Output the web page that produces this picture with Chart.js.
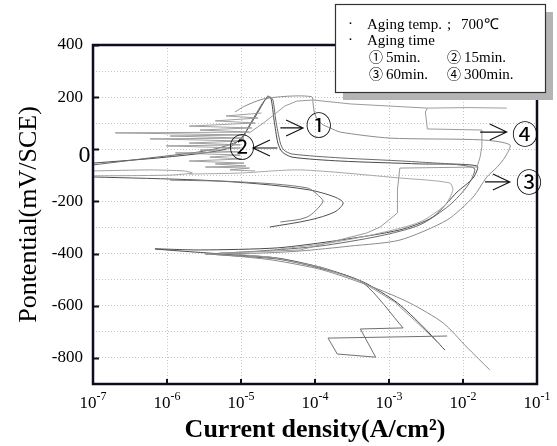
<!DOCTYPE html>
<html>
<head>
<meta charset="utf-8">
<script src="https://cdn.jsdelivr.net/npm/chart.js@4.4.1/dist/chart.umd.min.js"></script>
<style>
  html, body { margin: 0; padding: 0; background: #fff; }
  canvas { display: block; }
</style>
</head>
<body>
<canvas id="chart" width="557" height="446"></canvas>
<script>
// Polarization curves, aging temp. 700C
// current density in A/cm2, potential in mV/SCE

const xDecades = [-7, -6, -5, -4, -3, -2, -1];
const yLabelled = [400, 200, 0, -200, -400, -600, -800];

// (1) 5 min
const c1Current = [5.7e-3, 2.9e-3, 1.3e-3, 4.5e-4, 1.28e-4, 3.1e-5, 5.8e-6, 6.9e-7, 2.8e-6, 3.1e-5,
  2.2e-4, 1.4e-3, 3.9e-3, 8.3e-3, 1.37e-2, 1.55e-2, 2.6e-3, 2.2e-4, 4.9e-5, 3.6e-5,
  3.15e-5, 2.8e-5, 2.55e-5, 2.3e-5, 2.0e-5, 1.55e-5, 1.03e-5, 6.3e-6, 9.8e-7, 1.0e-7];
const c1Potential = [-770, -681, -589, -509, -455, -417, -402, -382, -386, -378,
  -348, -309, -260, -164, -110, -64, -56, -45, -30, -10,
  24, 112, 193, 204, 178, 124, 47, 1, -30, -53];
const c1LoopCurrent = [1.0e-7, 2.8e-6, 1.8e-5, 8.5e-5, 1.85e-4, 2.4e-4, 1.85e-4, 8.5e-5, 2.45e-5];
const c1LoopPotential = [-106, -118, -133, -156, -183, -206, -240, -271, -298];

// (2) 15 min
const c2StepCurrent = [6.1e-3, 1.5e-4, 2.0e-4, 6.6e-4, 4.1e-4, 1.55e-3];
const c2StepPotential = [-716, -724, -785, -797, -689, -685];
const c2Current = [1.55e-3, 4.5e-4, 1.28e-4, 3.1e-5, 4.2e-6, 1.8e-5, 1.17e-4, 7.6e-4, 2.6e-3, 6.6e-3,
  1.17e-2, 1.41e-2, 2.6e-3, 2.2e-4, 4.9e-5, 3.8e-5, 3.4e-5, 2.95e-5, 2.7e-5, 2.45e-5,
  2.05e-5, 1.65e-5, 1.3e-5, 9.8e-6, 3.8e-6, 5.9e-7, 1.0e-7];
const c2Potential = [-685, -513, -459, -421, -402, -390, -371, -332, -290, -214,
  -137, -72, -49, -33, -18, -3, 24, 112, 189, 201,
  185, 143, 93, 36, -3, -33, -60];
const c2LoopCurrent = [1.1e-6, 9.8e-6, 7.8e-5, 1.17e-4, 1.28e-4, 7.8e-5, 3.4e-5];
const c2LoopPotential = [-118, -125, -148, -183, -202, -260, -279];
// noisy passive region
const c2NoiseCurrent = [1.9e-5, 6.3e-6, 1.7e-5, 4.5e-6, 1.55e-5, 2.0e-6, 1.4e-5, 2.8e-6, 1.3e-5, 2.0e-7,
  1.17e-5, 1.1e-6, 1.1e-5, 5.9e-7, 1.03e-5, 2.0e-6, 9.8e-6, 9.8e-7, 9.8e-6, 2.8e-6,
  9.1e-6, 1.3e-6, 9.8e-6, 3.8e-6, 1.03e-5, 2.0e-6, 1.1e-5, 4.5e-6, 1.17e-5, 3.3e-6,
  1.3e-5, 7.1e-6, 1.55e-5];
const c2NoisePotential = [139, 128, 120, 109, 101, 89, 82, 74, 66, 63,
  55, 51, 43, 40, 32, 24, 17, 13, 5, -3,
  -10, -14, -22, -30, -37, -45, -53, -56, -64, -68,
  -72, -79, -83];

// (3) 60 min
const c3Current = [2.3e-2, 1.12e-2, 5.4e-3, 1.9e-3, 6.0e-4, 1.28e-4, 2.7e-5, 5.8e-6, 3.3e-6, 1.8e-5,
  6.3e-5, 3.0e-4, 1.4e-3, 6.1e-3, 1.37e-2, 2.1e-2, 2.9e-2, 3.7e-2, 4.3e-2, 1.8e-2,
  1.03e-3, 2.2e-4, 1.6e-4, 1.24e-4, 1.0e-4, 9.4e-5, 9.1e-5, 4.6e-5, 2.0e-5, 1.13e-5, 8.3e-6];
const c3Potential = [-846, -758, -666, -589, -528, -463, -425, -405, -402, -398,
  -390, -371, -348, -271, -183, -106, -68, -30, 17, 36,
  43, 66, 82, 97, 132, 178, 201, 204, 193, 166, 143];

// (4) 300 min
const c4Current = [4.9e-3, 2.6e-3, 1.2e-3, 4.1e-4, 1.17e-4, 2.45e-5, 5.2e-6, 6.3e-5, 5.0e-4, 7.6e-4,
  1.3e-3, 1.3e-3, 1.4e-3, 1.55e-2, 1.7e-2, 1.8e-2, 1.8e-2, 3.3e-3, 3.1e-3, 3.3e-3,
  3.0e-4, 9.4e-5, 5.7e-5, 3.9e-5, 3.1e-5, 2.1e-5, 1.3e-5];
const c4Potential = [-750, -674, -586, -505, -451, -413, -398, -386, -321, -298,
  -244, -156, -72, -68, -30, 9, 74, 78, 143, 158,
  174, 189, 185, 166, 143, 105, 63];
const c4TopCurrent = [3.3e-3, 1.2e-2, 3.9e-2];
const c4TopPotential = [158, 160, 158];
const c4LowCurrent = [1.0e-7, 5.9e-7, 1.7e-6, 2.2e-6, 1.1e-6, 1.0e-7];
const c4LowPotential = [-83, -79, -83, -91, -99, -102];
const c4BackCurrent = [2.0e-6, 9.8e-6, 6.3e-5, 1.4e-3, 6.6e-3, 7.3e-3, 5.7e-3, 2.6e-3, 7.6e-4, 1.6e-4, 3.4e-5];
const c4BackPotential = [-95, -91, -79, -110, -129, -156, -214, -279, -321, -359, -382];

// arrows pointing at the curve labels (current, potential)
const notes = [
  { text: '①', from: [3.4e-5, 82], to: [6.9e-5, 82], at: [1.12e-4, 82] },
  { text: '②', from: [3.1e-5, 5], to: [1.45e-5, 5], at: [1.03e-5, -3] },
  { text: '④', from: [1.7e-2, 66], to: [3.9e-2, 66], at: [6.9e-2, 47] },
  { text: '③', from: [1.98e-2, -125], to: [4.3e-2, -125], at: [7.8e-2, -137] }
];

function seg(cur, pot, color, tension) {
  return {
    data: cur.map((c, k) => ({ x: c, y: pot[k] })),
    borderColor: color,
    borderWidth: 1,
    pointRadius: 0,
    showLine: true,
    tension: tension,
    fill: false
  };
}

const serif = '"Liberation Serif", "Times New Roman", serif';
const circled = '"Liberation Serif", "Noto Sans CJK KR", serif';

const overlay = {
  id: 'overlay',
  beforeDraw(chart) {
    const ctx = chart.ctx;
    ctx.save();
    ctx.fillStyle = '#fff';
    ctx.fillRect(0, 0, chart.width, chart.height);
    ctx.restore();
  },
  afterDraw(chart) {
    const ctx = chart.ctx;
    const a = chart.chartArea;
    const xs = chart.scales.x;
    const ys = chart.scales.y;
    ctx.save();

    // inner tick marks
    ctx.strokeStyle = '#111';
    ctx.lineWidth = 2;
    ctx.beginPath();
    yLabelled.forEach(v => {
      const py = Math.round(ys.getPixelForValue(v)) + 0.5;
      ctx.moveTo(a.left, py);
      ctx.lineTo(a.left + 6, py);
    });
    xDecades.forEach(e => {
      const px = Math.round(xs.getPixelForValue(Math.pow(10, e)));
      ctx.moveTo(px, a.bottom);
      ctx.lineTo(px, a.bottom - 5);
    });
    ctx.stroke();

    // frame
    ctx.strokeStyle = '#0d0d20';
    ctx.lineWidth = 2.5;
    ctx.strokeRect(a.left, a.top, a.right - a.left, a.bottom - a.top);

    // decade labels with real superscripts
    ctx.fillStyle = '#000';
    ctx.textAlign = 'left';
    ctx.textBaseline = 'alphabetic';
    xDecades.forEach(e => {
      const px = xs.getPixelForValue(Math.pow(10, e));
      ctx.font = '17px ' + serif;
      const w1 = ctx.measureText('10').width;
      ctx.font = '12px ' + serif;
      const w2 = ctx.measureText(String(e)).width;
      const x0 = px - (w1 + w2) / 2;
      ctx.font = '17px ' + serif;
      ctx.fillText('10', x0, 408);
      ctx.font = '12px ' + serif;
      ctx.fillText(String(e), x0 + w1, 400);
    });

    // the big zero label
    ctx.font = '24px ' + serif;
    ctx.textAlign = 'center';
    ctx.textBaseline = 'middle';
    ctx.fillText('0', 84.5, ys.getPixelForValue(0) + 6);

    // arrows + circled numbers
    ctx.strokeStyle = '#111';
    ctx.lineWidth = 1.1;
    notes.forEach(n => {
      const x0 = xs.getPixelForValue(n.from[0]), y0 = ys.getPixelForValue(n.from[1]);
      const x1 = xs.getPixelForValue(n.to[0]), y1 = ys.getPixelForValue(n.to[1]);
      const dir = x1 > x0 ? -1 : 1;
      ctx.beginPath();
      ctx.moveTo(x0, y0);
      ctx.lineTo(x1, y1);
      ctx.moveTo(x1 + dir * 17, y1 - 8);
      ctx.lineTo(x1, y1);
      ctx.lineTo(x1 + dir * 17, y1 + 8);
      ctx.stroke();
      ctx.font = '26px ' + circled;
      ctx.textAlign = 'center';
      ctx.textBaseline = 'middle';
      ctx.fillText(n.text, xs.getPixelForValue(n.at[0]), ys.getPixelForValue(n.at[1]));
    });

    // legend box with shadow
    ctx.fillStyle = '#b4b4b4';
    ctx.fillRect(343, 12, 210, 88);
    ctx.fillStyle = '#fff';
    ctx.fillRect(335, 4, 210, 88);
    ctx.strokeStyle = '#333';
    ctx.lineWidth = 1.2;
    ctx.strokeRect(335.5, 4.5, 210, 88);

    ctx.fillStyle = '#000';
    ctx.textAlign = 'left';
    ctx.textBaseline = 'alphabetic';
    ctx.font = '15px ' + serif;
    ctx.fillText('·', 348, 28);
    ctx.fillText('Aging temp.', 367, 29);
    ctx.fillText(';', 447, 29);
    ctx.fillText('700℃', 461, 29);
    ctx.fillText('·', 348, 44);
    ctx.fillText('Aging time', 367, 45);
    ctx.fillText('5min.', 386, 62);
    ctx.fillText('15min.', 464, 62);
    ctx.fillText('60min.', 386, 79);
    ctx.fillText('300min.', 464, 79);
    ctx.font = '14px ' + circled;
    ctx.fillText('①', 369, 62);
    ctx.fillText('②', 447, 62);
    ctx.fillText('③', 369, 79);
    ctx.fillText('④', 447, 79);

    ctx.restore();
  }
};

new Chart(document.getElementById('chart'), {
  type: 'scatter',
  data: {
    datasets: [
      seg(c2NoiseCurrent, c2NoisePotential, 'rgba(150,150,150,0.9)', 0),
      seg(c4LowCurrent, c4LowPotential, '#a0a0a0', 0.2),
      seg(c4BackCurrent, c4BackPotential, '#a8a8a8', 0.25),
      seg(c4Current, c4Potential, '#9a9a9a', 0),
      seg(c4TopCurrent, c4TopPotential, '#a0a0a0', 0),
      seg(c3Current, c3Potential, '#8c8c8c', 0.25),
      seg(c2StepCurrent, c2StepPotential, '#707070', 0),
      seg(c2Current, c2Potential, '#6a6a6a', 0.25),
      seg(c2LoopCurrent, c2LoopPotential, '#7a7a7a', 0.3),
      seg(c1LoopCurrent, c1LoopPotential, '#505050', 0.3),
      seg(c1Current, c1Potential, '#4a4a4a', 0.25)
    ]
  },
  options: {
    responsive: false,
    animation: false,
    devicePixelRatio: 1,
    layout: { padding: { left: 0, top: 45, right: 20, bottom: 0 } },
    plugins: { legend: { display: false }, tooltip: { enabled: false } },
    scales: {
      x: {
        type: 'logarithmic',
        min: 1e-7,
        max: 1e-1,
        afterBuildTicks: s => { s.ticks = xDecades.map(e => ({ value: Math.pow(10, e) })); },
        afterFit: s => { s.height = 62; },
        ticks: { display: false },
        grid: { color: '#c4c4c4', drawTicks: false },
        border: { display: false, dash: [1, 2] },
        title: {
          display: true,
          text: 'Current density(A/cm²)',
          color: '#000',
          font: { family: serif, size: 26, weight: 'bold' },
          padding: { top: 0, bottom: 0 }
        }
      },
      y: {
        type: 'linear',
        min: -900,
        max: 400,
        afterFit: s => { s.width = 93; },
        ticks: {
          stepSize: 100,
          callback: v => (v % 200 === 0 && v !== 0) ? String(v) : '',
          padding: 10,
          color: '#000',
          font: { family: serif, size: 17 }
        },
        grid: { color: '#c4c4c4', drawTicks: false },
        border: { display: false, dash: [1, 2] },
        title: {
          display: true,
          text: 'Pontential(mV/SCE)',
          color: '#000',
          font: { family: serif, size: 26 },
          padding: { top: 14, bottom: 0 }
        }
      }
    }
  },
  plugins: [overlay]
});
</script>
</body>
</html>
